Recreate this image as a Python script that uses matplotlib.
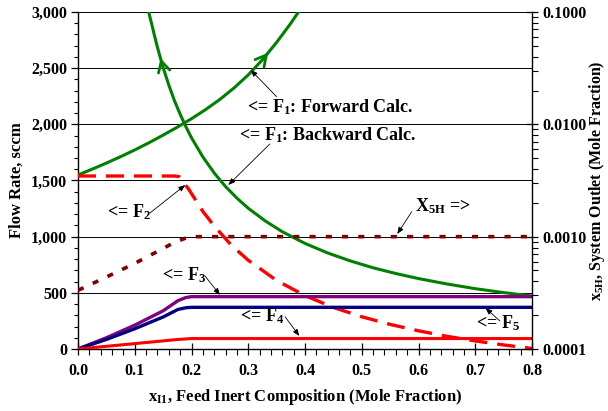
import matplotlib
matplotlib.use('Agg')
import matplotlib.pyplot as plt
from matplotlib.ticker import MultipleLocator, FixedLocator, NullFormatter, LogLocator

plt.rcParams['font.family'] = ['Liberation Serif', 'DejaVu Serif']
plt.rcParams['font.weight'] = 'bold'
plt.rcParams['mathtext.fontset'] = 'custom'
plt.rcParams['mathtext.rm'] = 'Liberation Serif:bold'
plt.rcParams['mathtext.it'] = 'Liberation Serif:bold'
plt.rcParams['mathtext.bf'] = 'Liberation Serif:bold'

# ---------------- data ----------------
x_fwd = [0.0, 0.025, 0.05, 0.075, 0.10, 0.125, 0.15, 0.175, 0.20, 0.225,
         0.25, 0.275, 0.30, 0.325, 0.35, 0.375, 0.40]
f1_fwd = [1549, 1601, 1655, 1712, 1772, 1836, 1904, 1975, 2050, 2132,
          2222, 2324, 2440, 2575, 2730, 2900, 3085]

x_bwd = [0.124, 0.13, 0.135, 0.14, 0.145, 0.15, 0.16, 0.17, 0.18, 0.19,
         0.20, 0.22, 0.24, 0.26, 0.28, 0.30, 0.33, 0.36, 0.40, 0.44,
         0.48, 0.52, 0.56, 0.60, 0.65, 0.70, 0.75, 0.80]
f1_bwd = [3010, 2890, 2785, 2685, 2595, 2505, 2350, 2210, 2090, 1980,
          1880, 1710, 1567, 1446, 1343, 1253, 1140, 1044, 940, 855,
          784, 723, 672, 627, 579, 537, 502, 472]

x_f2 = [0.0, 0.17, 0.178, 0.186, 0.194, 0.21, 0.22, 0.24, 0.27, 0.30, 0.35,
        0.40, 0.45, 0.50, 0.55, 0.60, 0.65, 0.70, 0.75, 0.80]
f2 = [1540, 1540, 1535, 1480, 1430, 1305, 1225, 1095, 925, 790, 610,
      475, 370, 287, 219, 162, 113, 72, 36, 5]

x_f3 = [0.0, 0.05, 0.10, 0.15, 0.176, 0.19, 0.20, 0.80]
f3 = [0, 100, 212, 340, 430, 458, 466, 466]

x_f5 = [0.0, 0.05, 0.10, 0.15, 0.176, 0.19, 0.20, 0.80]
f5 = [0, 85, 180, 285, 352, 367, 371, 371]

x_f4 = [0.0, 0.10, 0.176, 0.20, 0.80]
f4 = [0, 48, 85, 93, 93]

x_x5h = [0.0, 0.05, 0.10, 0.15, 0.17, 0.19, 0.20, 0.80]
x5h = [3.33e-4, 4.37e-4, 5.78e-4, 7.85e-4, 8.91e-4, 9.72e-4, 1.0e-3, 1.0e-3]

left_ticks = [0, 500, 1000, 1500, 2000, 2500, 3000]
left_labels = ['0', '500', '1,000', '1,500', '2,000', '2,500', '3,000']
x_ticks = [0.0, 0.1, 0.2, 0.3, 0.4, 0.5, 0.6, 0.7, 0.8]
x_labels = ['0.0', '0.1', '0.2', '0.3', '0.4', '0.5', '0.6', '0.7', '0.8']
right_ticks = [1e-4, 1e-3, 1e-2, 1e-1]
right_labels = ['0.0001', '0.0010', '0.0100', '0.1000']

# ---------------- figure ----------------
fig = plt.figure(figsize=(6.08, 4.11), dpi=100)
ax = fig.add_axes([78/608, 1-349/411, (532-78)/608, (349-12)/411])
ax.set_xlim(0, 0.8)
ax.set_ylim(0, 3000)

for v in left_ticks:
    ax.axhline(v, color='black', lw=0.7, zorder=1)

GREEN = '#008000'
ax.plot(x_fwd, f1_fwd, color=GREEN, lw=2.2, zorder=3)
ax.plot(x_bwd, f1_bwd, color=GREEN, lw=2.2, zorder=3)
ax.plot(x_f2, f2, color='#FF0000', lw=2.4, dashes=(5.4, 3.0), zorder=3)
ax.plot(x_f3, f3, color='#800080', lw=2.4, zorder=3)
ax.plot(x_f5, f5, color='#000080', lw=2.4, zorder=3)
ax.plot(x_f4, f4, color='#FF0000', lw=2.2, zorder=3)

# chevron arrowheads on the F1 curves
head = dict(arrowstyle='->,head_length=0.55,head_width=0.3', color=GREEN,
            lw=2.0, shrinkA=0, shrinkB=0, mutation_scale=14)
ax.annotate('', xy=(0.335, 2637), xytext=(0.330, 2606), arrowprops=head, zorder=4)
ax.annotate('', xy=(0.1455, 2587), xytext=(0.148, 2540), arrowprops=head, zorder=4)

ax.set_xticks(x_ticks)
ax.set_xticklabels(x_labels)
ax.set_yticks(left_ticks)
ax.set_yticklabels(left_labels)
ax.xaxis.set_minor_locator(MultipleLocator(0.02))
ax.yaxis.set_minor_locator(MultipleLocator(100))
ax.tick_params(axis='x', which='major', direction='inout', length=8, width=0.9,
               labelsize=11.5, pad=6)
ax.tick_params(axis='x', which='minor', direction='out', length=4, width=0.8)
ax.tick_params(axis='y', which='major', direction='out', length=5, width=0.9,
               labelsize=11.5, pad=3)
ax.tick_params(axis='y', which='minor', direction='out', length=3, width=0.8)
for s in ['left', 'bottom']:
    ax.spines[s].set_linewidth(1.0)
ax.spines['top'].set_visible(False)
ax.spines['right'].set_visible(False)

ax.set_xlabel(r'x$_{\mathrm{I1}}$, Feed Inert Composition (Mole Fraction)',
              fontsize=12, fontweight='bold', labelpad=6)
ax.set_ylabel('Flow Rate, sccm', fontsize=12, fontweight='bold', labelpad=4)

# ---------------- right log axis ----------------
ax2 = ax.twinx()
ax2.set_yscale('log')
ax2.set_ylim(1e-4, 1e-1)
ax2.plot(x_x5h, x5h, color='#800000', lw=2.6, dashes=(1.7, 2.8), zorder=3)
ax2.yaxis.set_major_locator(FixedLocator(right_ticks))
ax2.set_yticklabels(right_labels)
ax2.yaxis.set_minor_locator(LogLocator(base=10, subs=[2, 3, 4, 5, 6, 7, 8, 9]))
ax2.yaxis.set_minor_formatter(NullFormatter())
ax2.tick_params(axis='y', which='major', direction='inout', length=9, width=0.9,
                labelsize=11.5, pad=3)
ax2.tick_params(axis='y', which='minor', direction='out', length=4, width=0.8)
ax2.spines['right'].set_linewidth(1.0)
ax2.spines['top'].set_visible(False)
ax2.spines['left'].set_visible(False)
ax2.spines['bottom'].set_visible(False)
ax2.set_ylabel(r'x$_{\mathrm{5H}}$, System Outlet (Mole Fraction)',
               fontsize=11.5, fontweight='bold', labelpad=0)

# ---------------- annotations ----------------
arrow_kw = dict(arrowstyle='-|>,head_length=0.5,head_width=0.2', color='black',
                lw=0.6, shrinkA=0, shrinkB=0, mutation_scale=8)
tfs = 13

def note(text, txy, start, tip):
    ax.text(txy[0], txy[1], text, fontsize=tfs, fontweight='bold',
            ha='left', va='center', zorder=6)
    ax.annotate('', xy=tip, xytext=start, arrowprops=arrow_kw, zorder=6)

note(r'<= F$_{1}$: Forward Calc.', (0.297, 2157), (0.350, 2246), (0.3043, 2484))
note(r'<= F$_{1}$: Backward Calc.', (0.284, 1905), (0.338, 1825), (0.2648, 1460))
note(r'<= F$_{2}$', (0.0516, 1220), (0.1269, 1211), (0.189, 1460))
note(r'X$_{\mathrm{5H}}$ =>', (0.594, 1273), (0.588, 1222), (0.5626, 1024))
note(r'<= F$_{3}$', (0.1475, 659), (0.2238, 650), (0.2502, 481))
note(r'<= F$_{4}$', (0.2855, 288), (0.3648, 288), (0.390, 116))
note(r'<= F$_{5}$', (0.7013, 229), (0.7436, 249), (0.718, 365))

fig.savefig('out.png', dpi=100)
